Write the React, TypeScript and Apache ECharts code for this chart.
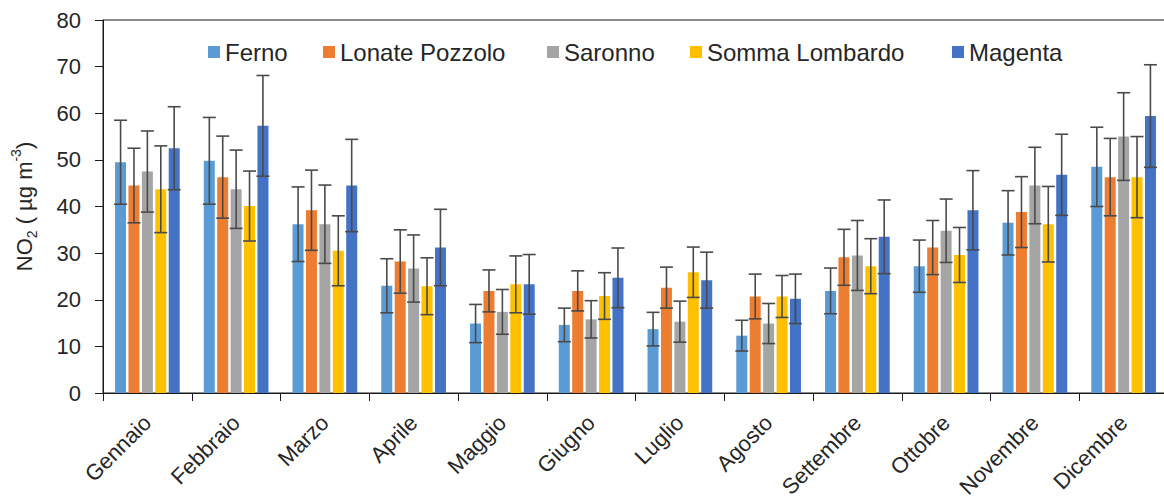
import React, { useEffect, useRef } from "react";
import * as echarts from "echarts";

const months = ["Gennaio", "Febbraio", "Marzo", "Aprile", "Maggio", "Giugno", "Luglio", "Agosto", "Settembre", "Ottobre", "Novembre", "Dicembre"];
const stations = ["Ferno", "Lonate Pozzolo", "Saronno", "Somma Lombardo", "Magenta"];
const colors = ["#5B9BD5", "#ED7D31", "#A5A5A5", "#FFC000", "#4472C4"];

const fernoMean = [49.5, 49.8, 36.2, 23.0, 14.9, 14.6, 13.7, 12.3, 21.9, 27.2, 36.5, 48.5];
const fernoSd = [9.0, 9.3, 8.0, 5.8, 4.1, 3.6, 3.6, 3.3, 4.9, 5.6, 6.9, 8.5];
const lonateMean = [44.5, 46.3, 39.2, 28.2, 21.9, 21.9, 22.6, 20.7, 29.1, 31.2, 38.8, 46.3];
const lonateSd = [8.0, 8.8, 8.6, 6.8, 4.5, 4.3, 4.4, 4.8, 6.0, 5.8, 7.6, 8.3];
const saronnoMean = [47.5, 43.7, 36.2, 26.7, 17.4, 15.8, 15.3, 14.9, 29.5, 34.8, 44.5, 55.0];
const saronnoSd = [8.7, 8.4, 8.4, 7.2, 4.8, 4.0, 4.4, 4.3, 7.5, 6.8, 8.2, 9.4];
const sommaMean = [43.7, 40.1, 30.5, 22.9, 23.3, 20.8, 25.9, 20.7, 27.2, 29.6, 36.2, 46.3];
const sommaSd = [9.3, 7.5, 7.5, 6.1, 6.1, 5.0, 5.4, 4.5, 5.9, 5.9, 8.1, 8.7];
const magentaMean = [52.5, 57.3, 44.5, 31.2, 23.3, 24.7, 24.2, 20.2, 33.5, 39.2, 46.8, 59.4];
const magentaSd = [8.9, 10.8, 9.9, 8.2, 6.4, 6.4, 6.0, 5.3, 7.9, 8.5, 8.7, 11.0];

const yTicks = [0, 10, 20, 30, 40, 50, 60, 70, 80];

const means = [fernoMean, lonateMean, saronnoMean, sommaMean, magentaMean];
const sds = [fernoSd, lonateSd, saronnoSd, sommaSd, magentaSd];
const legendLefts = [208, 323, 547, 690, 952];

const FONT = "'Liberation Sans', Arial, sans-serif";
const BAR_W = 11;
const STEP = 13.4;

export default function App() {
  const ref = useRef<HTMLDivElement>(null);
  useEffect(() => {
    if (!ref.current) return;
    const chart = echarts.init(ref.current, null, { renderer: "svg" });
    const barSeries = stations.map((name, i) => ({
      name,
      type: "bar",
      data: means[i],
      barWidth: BAR_W,
      barGap: "22%",
      itemStyle: { color: colors[i] },
      z: 2,
    }));
    const errSeries = stations.map((name, i) => ({
      name: name + " err",
      type: "custom",
      z: 5,
      data: months.map((_, k) => [k, means[i][k] - sds[i][k], means[i][k] + sds[i][k]]),
      renderItem: (params: any, api: any) => {
        const cat = api.value(0);
        const lo = api.coord([cat, api.value(1)]);
        const hi = api.coord([cat, api.value(2)]);
        const x = lo[0] + (i - 2) * STEP;
        const cw = 6.5;
        const style = { stroke: "#4a4a4a", lineWidth: 1.6 };
        return {
          type: "group",
          children: [
            { type: "line", shape: { x1: x, y1: lo[1], x2: x, y2: hi[1] }, style },
            { type: "line", shape: { x1: x - cw, y1: hi[1], x2: x + cw, y2: hi[1] }, style },
            { type: "line", shape: { x1: x - cw, y1: lo[1], x2: x + cw, y2: lo[1] }, style },
          ],
        };
      },
    }));
    chart.setOption({
      animation: false,
      textStyle: { fontFamily: FONT },
      grid: {
        left: 103, right: -4, top: 20, bottom: 108,
        containLabel: false, outerBoundsMode: "none",
        show: true, borderColor: "#1a1a1a", borderWidth: 1,
      },
      legend: stations.map((name, i) => ({
        data: [name],
        left: legendLefts[i],
        top: 40,
        padding: 0,
        icon: "rect",
        itemWidth: 12,
        itemHeight: 12,
        itemGap: 6,
        textStyle: { fontSize: 24, color: "#262626", fontFamily: FONT },
        selectedMode: false,
      })),
      xAxis: {
        type: "category",
        data: months,
        axisLine: { lineStyle: { color: "#1a1a1a", width: 1 } },
        axisTick: { show: true, interval: 0, length: 8, lineStyle: { color: "#1a1a1a" } },
        axisLabel: { interval: 0, rotate: 45, fontSize: 22, color: "#262626", margin: 26, fontFamily: FONT },
      },
      yAxis: {
        type: "value",
        min: yTicks[0],
        max: yTicks[yTicks.length - 1],
        interval: 10,
        splitLine: { show: false },
        axisLine: { show: true, lineStyle: { color: "#1a1a1a", width: 1 } },
        axisTick: { show: true, length: 8, lineStyle: { color: "#1a1a1a" } },
        axisLabel: { fontSize: 22, color: "#262626", margin: 22, fontFamily: FONT },
        name: "{n|NO}{sub|2}{n| ( µg m}{sup|-3}{n|)}",
        nameLocation: "middle",
        nameGap: 64,
        nameRotate: 90,
        nameTextStyle: {
          rich: {
            n: { fontSize: 22, color: "#262626", fontFamily: FONT, lineHeight: 30 },
            sub: { fontSize: 14, color: "#262626", fontFamily: FONT, lineHeight: 14, verticalAlign: "bottom" },
            sup: { fontSize: 14, color: "#262626", fontFamily: FONT, lineHeight: 14, verticalAlign: "top" },
          },
        },
      },
      series: [...barSeries, ...errSeries],
    });
    return () => chart.dispose();
  }, []);
  return <div ref={ref} style={{ position: "fixed", left: 0, top: 0, width: 1164, height: 501, background: "#fff" }} />;
}
